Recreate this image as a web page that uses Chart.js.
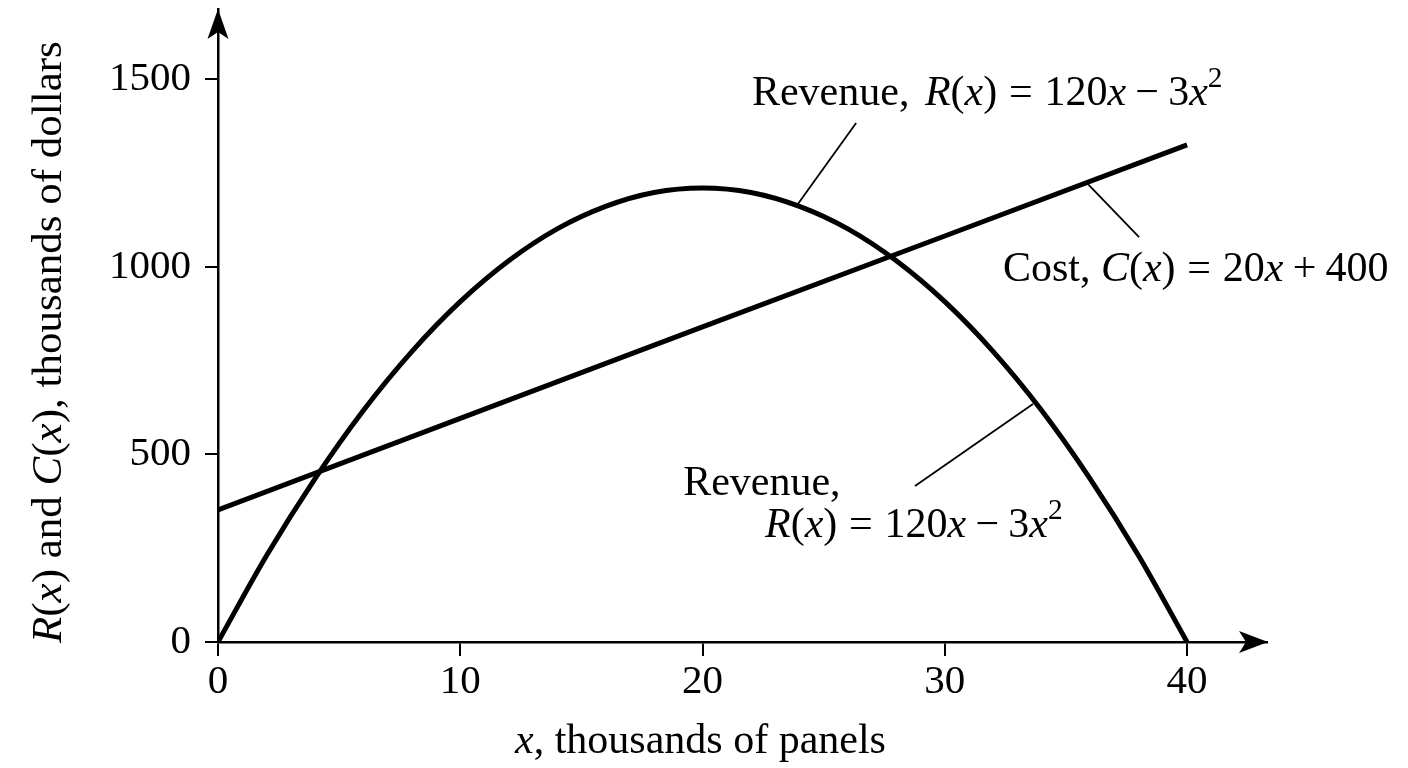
<!DOCTYPE html>
<html>
<head>
<meta charset="utf-8">
<script src="https://cdn.jsdelivr.net/npm/chart.js@4.4.1/dist/chart.umd.min.js"></script>
<style>
  html, body { margin: 0; padding: 0; background: #fff; }
  canvas { display: block; }
</style>
</head>
<body>
<canvas id="plChart" width="1408" height="768"></canvas>
<script>
// values (thousands of panels / thousands of dollars)
const xValues = [0, 2, 4, 6, 8, 10, 12, 14, 16, 18, 20, 22, 24, 26, 28, 30, 32, 34, 36, 38, 40];
const revenueValues = [0, 230, 435, 617, 774, 907, 1016, 1101, 1161, 1198, 1210, 1198, 1161, 1101, 1016, 907, 774, 617, 435, 230, 0];
const costX = [0, 10, 20, 30, 40];
const costValues = [352, 596, 840, 1082, 1325];
const xTicks = [0, 10, 20, 30, 40];
const yTicks = [0, 500, 1000, 1500];

const serif = '"Liberation Serif", "DejaVu Serif", serif';

// rich text pieces: [text, 'r' roman | 'i' italic | 's' superscript], numbers are gaps in em
const revenueMath = [['R', 'i'], ['(', 'r'], ['x', 'i'], [')', 'r'], 0.28, ['=', 'r'], 0.28,
  ['120', 'r'], ['x', 'i'], 0.22, ['\u2212', 'r'], 0.22, ['3', 'r'], ['x', 'i'], ['2', 's']];
const costText = [['Cost, ', 'r'], ['C', 'i'], ['(', 'r'], ['x', 'i'], [')', 'r'], 0.28, ['=', 'r'], 0.28,
  ['20', 'r'], ['x', 'i'], 0.22, ['+', 'r'], 0.22, ['400', 'r']];
const xTitle = [['x', 'i'], [', thousands of panels', 'r']];
const yTitle = [['R', 'i'], ['(', 'r'], ['x', 'i'], [') and ', 'r'], ['C', 'i'], ['(', 'r'], ['x', 'i'], ['), thousands of dollars', 'r']];

// labels placed in data units: [x, y, pieces]
const labels = [
  [22.04, 1431, [['Revenue,', 'r']]],
  [29.18, 1431, revenueMath],
  [32.40, 962, costText],
  [19.20, 392, [['Revenue,', 'r']]],
  [22.58, 280, revenueMath]
];
// leader lines in data units: [x1, y1, x2, y2]
const leaders = [
  [26.34, 1383, 23.90, 1164],
  [35.91, 1220, 38.02, 1079],
  [33.64, 634, 28.77, 416]
];

function drawRich(ctx, parts, x, y, size) {
  let cx = x;
  parts.forEach(p => {
    if (typeof p === 'number') { cx += p * size; return; }
    const sup = p[1] === 's';
    const fs = sup ? size * 0.7 : size;
    ctx.font = (p[1] === 'i' ? 'italic ' : '') + fs + 'px ' + serif;
    ctx.fillText(p[0], cx, sup ? y - size * 0.42 : y);
    cx += ctx.measureText(p[0]).width;
  });
  return cx - x;
}

const decorations = {
  id: 'decorations',
  afterDraw(chart) {
    const ctx = chart.ctx;
    const xs = chart.scales.x;
    const ys = chart.scales.y;
    const area = chart.chartArea;
    ctx.save();
    ctx.fillStyle = '#000';
    ctx.strokeStyle = '#000';

    // axis arrows
    const ax = xs.getPixelForValue(0);
    const ay = ys.getPixelForValue(0);
    ctx.beginPath();
    ctx.moveTo(area.right + 1, ay);
    ctx.lineTo(area.right - 28, ay - 11);
    ctx.lineTo(area.right - 21, ay);
    ctx.lineTo(area.right - 28, ay + 11);
    ctx.closePath();
    ctx.fill();
    ctx.beginPath();
    ctx.moveTo(ax, area.top);
    ctx.lineTo(ax - 10.5, area.top + 30);
    ctx.lineTo(ax, area.top + 23);
    ctx.lineTo(ax + 10.5, area.top + 30);
    ctx.closePath();
    ctx.fill();

    // leader lines
    ctx.lineWidth = 1.8;
    leaders.forEach(l => {
      ctx.beginPath();
      ctx.moveTo(xs.getPixelForValue(l[0]), ys.getPixelForValue(l[1]));
      ctx.lineTo(xs.getPixelForValue(l[2]), ys.getPixelForValue(l[3]));
      ctx.stroke();
    });

    // labels
    ctx.textBaseline = 'alphabetic';
    ctx.textAlign = 'left';
    labels.forEach(l => {
      drawRich(ctx, l[2], xs.getPixelForValue(l[0]), ys.getPixelForValue(l[1]), 42);
    });

    // axis titles
    drawRich(ctx, xTitle, 515, 753, 42);
    ctx.translate(61, 643);
    ctx.rotate(-Math.PI / 2);
    drawRich(ctx, yTitle, 0, 0, 43);
    ctx.restore();
  }
};

const axisStyle = {
  grid: { display: true, drawOnChartArea: false, drawTicks: true, tickLength: 14, lineWidth: 2, color: '#000' },
  border: { display: true, color: '#000', width: 2.5 }
};

const noPad = scale => {
  scale.paddingTop = 0;
  scale.paddingBottom = 0;
  scale.paddingLeft = 0;
  scale.paddingRight = 0;
};

const plChart = new Chart(document.getElementById('plChart').getContext('2d'), {
  type: 'line',
  data: {
    datasets: [{
      label: 'Revenue',
      data: xValues.map((x, i) => ({ x: x, y: revenueValues[i] })),
      borderColor: '#000',
      borderWidth: 5,
      pointRadius: 0,
      cubicInterpolationMode: 'monotone',
      fill: false
    }, {
      label: 'Cost',
      data: costX.map((x, i) => ({ x: x, y: costValues[i] })),
      borderColor: '#000',
      borderWidth: 5,
      pointRadius: 0,
      tension: 0,
      fill: false
    }]
  },
  options: {
    responsive: false,
    animation: false,
    devicePixelRatio: 1,
    layout: { padding: { left: 0, top: 9, right: 141, bottom: 0 } },
    plugins: { legend: { display: false }, tooltip: { enabled: false } },
    scales: {
      x: {
        type: 'linear',
        min: 0,
        max: 43.3,
        ...axisStyle,
        ticks: { color: '#000', padding: 2, font: { family: serif, size: 41 }, maxRotation: 0, callback: v => String(v) },
        afterBuildTicks: scale => { scale.ticks = xTicks.map(v => ({ value: v })); },
        afterFit: scale => { scale.height = 126; noPad(scale); }
      },
      y: {
        type: 'linear',
        min: 0,
        max: 1687,
        ...axisStyle,
        grid: { ...axisStyle.grid, tickLength: 13 },
        ticks: { color: '#000', padding: 14, font: { family: serif, size: 41 }, callback: v => String(v) },
        afterBuildTicks: scale => { scale.ticks = yTicks.map(v => ({ value: v })); },
        afterFit: scale => { scale.width = 218; noPad(scale); }
      }
    }
  },
  plugins: [decorations]
});
</script>
</body>
</html>
